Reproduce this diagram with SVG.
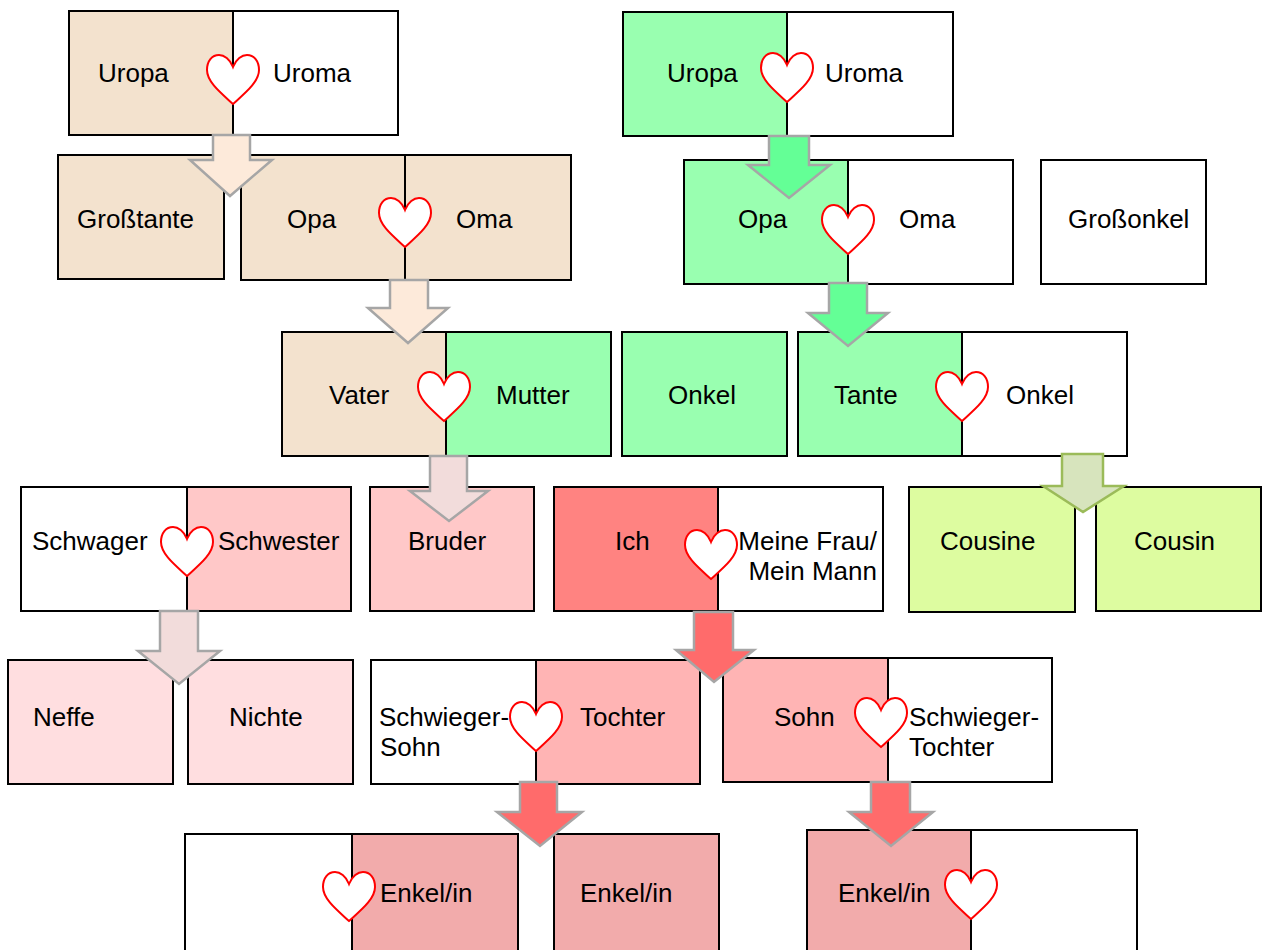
<svg xmlns="http://www.w3.org/2000/svg" width="1263" height="950" viewBox="0 0 1263 950">
<defs>
<style>
.b{stroke:#000;stroke-width:2}
.w{fill:#fff}
.pe{fill:#F3E2CE}
.gr{fill:#99FFB0}
.sc{fill:#FFC8C8}
.ic{fill:#FF8381}
.ne{fill:#FFDEE0}
.ts{fill:#FFB4B4}
.en{fill:#F2ABAB}
.co{fill:#DDFCA0}
text{font-family:"Liberation Sans",Arial,sans-serif;font-size:26px;fill:#000}
.ar{stroke:#A6A6A6;stroke-width:2.5;stroke-linejoin:miter}
.ap{fill:#FDEADA}
.ag{fill:#64FF96}
.ak{fill:#F2DCDB}
.ar2{fill:#FF6B6B}
.ac{fill:#D7E4BD;stroke:#9BBB59}
.h{fill:#fff;stroke:#FF0000;stroke-width:2}
</style>
<path id="heart" d="M0,12 C-3,4 -9,0 -14,0 C-21,0 -26,6 -26,15 C-26,27 -12,38 0,49 C12,38 26,27 26,15 C26,6 21,0 14,0 C9,0 3,4 0,12 Z"/>
</defs>
<rect width="1263" height="950" fill="#fff"/>

<g id="uropa-l"><rect class="b pe" x="69" y="11" width="164" height="124"/><text x="98" y="82">Uropa</text></g>
<g id="uroma-l"><rect class="b w" x="233" y="11" width="165" height="124"/><text x="273" y="82">Uroma</text></g>
<g id="grosstante"><rect class="b pe" x="58" y="155" width="166" height="124"/><text x="77" y="228">Großtante</text></g>
<g id="opa-l"><rect class="b pe" x="241" y="155" width="164" height="125"/><text x="287" y="228">Opa</text></g>
<g id="oma-l"><rect class="b pe" x="405" y="155" width="166" height="125"/><text x="456" y="228">Oma</text></g>

<g id="uropa-r"><rect class="b gr" x="623" y="12" width="164" height="124"/><text x="667" y="82">Uropa</text></g>
<g id="uroma-r"><rect class="b w" x="787" y="12" width="166" height="124"/><text x="825" y="82">Uroma</text></g>
<g id="opa-r"><rect class="b gr" x="684" y="160" width="164" height="124"/><text x="738" y="228">Opa</text></g>
<g id="oma-r"><rect class="b w" x="848" y="160" width="165" height="124"/><text x="899" y="228">Oma</text></g>
<g id="grossonkel"><rect class="b w" x="1041" y="160" width="165" height="124"/><text x="1068" y="228">Großonkel</text></g>

<g id="vater"><rect class="b pe" x="282" y="332" width="164" height="124"/><text x="329" y="404">Vater</text></g>
<g id="mutter"><rect class="b gr" x="446" y="332" width="165" height="124"/><text x="496" y="404">Mutter</text></g>
<g id="onkel-1"><rect class="b gr" x="622" y="332" width="165" height="124"/><text x="668" y="404">Onkel</text></g>
<g id="tante"><rect class="b gr" x="798" y="332" width="164" height="124"/><text x="834" y="404">Tante</text></g>
<g id="onkel-2"><rect class="b w" x="962" y="332" width="165" height="124"/><text x="1006" y="404">Onkel</text></g>

<g id="schwager"><rect class="b w" x="21" y="487" width="166" height="124"/><text x="32" y="550">Schwager</text></g>
<g id="schwester"><rect class="b sc" x="187" y="487" width="164" height="124"/><text x="218" y="550">Schwester</text></g>
<g id="bruder"><rect class="b sc" x="370" y="487" width="164" height="124"/><text x="408" y="550">Bruder</text></g>
<g id="ich"><rect class="b ic" x="554" y="487" width="164" height="124"/><text x="615" y="550">Ich</text></g>
<g id="partner"><rect class="b w" x="718" y="487" width="165" height="124"/><text x="877" y="550" text-anchor="end">Meine Frau/</text><text x="877" y="580" text-anchor="end">Mein Mann</text></g>
<g id="cousine"><rect class="b co" x="909" y="487" width="166" height="125"/><text x="940" y="550">Cousine</text></g>
<g id="cousin"><rect class="b co" x="1096" y="487" width="165" height="124"/><text x="1134" y="550">Cousin</text></g>

<g id="neffe"><rect class="b ne" x="8" y="660" width="165" height="124"/><text x="33" y="726">Neffe</text></g>
<g id="nichte"><rect class="b ne" x="188" y="660" width="165" height="124"/><text x="229" y="726">Nichte</text></g>
<g id="schwiegersohn"><rect class="b w" x="371" y="660" width="165" height="124"/><text x="379" y="726">Schwieger-</text><text x="380" y="756">Sohn</text></g>
<g id="tochter"><rect class="b ts" x="536" y="660" width="164" height="124"/><text x="580" y="726">Tochter</text></g>
<g id="sohn"><rect class="b ts" x="723" y="658" width="165" height="124"/><text x="774" y="726">Sohn</text></g>
<g id="schwiegertochter"><rect class="b w" x="888" y="658" width="164" height="124"/><text x="909" y="726">Schwieger-</text><text x="909" y="756">Tochter</text></g>

<g id="partner-enkel-1"><rect class="b w" x="185" y="834" width="167" height="130"/></g>
<g id="enkel-1"><rect class="b en" x="352" y="834" width="166" height="130"/><text x="380" y="902">Enkel/in</text></g>
<g id="enkel-2"><rect class="b en" x="554" y="834" width="165" height="130"/><text x="580" y="902">Enkel/in</text></g>
<g id="enkel-3"><rect class="b en" x="807" y="830" width="164" height="134"/><text x="838" y="902">Enkel/in</text></g>
<g id="partner-enkel-3"><rect class="b w" x="971" y="830" width="166" height="134"/></g>

<g id="connectors">
<polygon class="ar ap" points="213,135 250,135 250,160 272,160 230,196 190,160 213,160"/>
<polygon class="ar ap" points="390,280 428,280 428,308 448,308 408,343 368,308 390,308"/>
<polygon class="ar ag" points="769,136 809,136 809,165 830,165 789,198 748,165 769,165"/>
<polygon class="ar ag" points="829,283 867,283 867,313 888,313 848,346 808,313 829,313"/>
<polygon class="ar ak" points="430,456 467,456 467,491 488,491 449,521 410,491 430,491"/>
<polygon class="ar ac" points="1062,454 1103,454 1103,486 1124,486 1083,512 1043,486 1062,486"/>
<polygon class="ar ak" points="160,611 198,611 198,651 220,651 179,684 138,651 160,651"/>
<polygon class="ar ar2" points="694,612 733,612 733,650 754,650 714,682 676,650 694,650"/>
<polygon class="ar ar2" points="520,782 557,782 557,812 582,812 540,846 497,812 520,812"/>
<polygon class="ar ar2" points="871,782 910,782 910,812 933,812 891,846 849,812 871,812"/>
</g>

<g id="hearts">
<use href="#heart" class="h" x="233" y="55"/>
<use href="#heart" class="h" x="405" y="198"/>
<use href="#heart" class="h" x="787" y="53"/>
<use href="#heart" class="h" x="848" y="205"/>
<use href="#heart" class="h" x="444" y="372"/>
<use href="#heart" class="h" x="962" y="372"/>
<use href="#heart" class="h" x="187" y="527"/>
<use href="#heart" class="h" x="711" y="530"/>
<use href="#heart" class="h" x="536" y="702"/>
<use href="#heart" class="h" x="881" y="698"/>
<use href="#heart" class="h" x="349" y="872"/>
<use href="#heart" class="h" x="971" y="870"/>
</g>
</svg>
